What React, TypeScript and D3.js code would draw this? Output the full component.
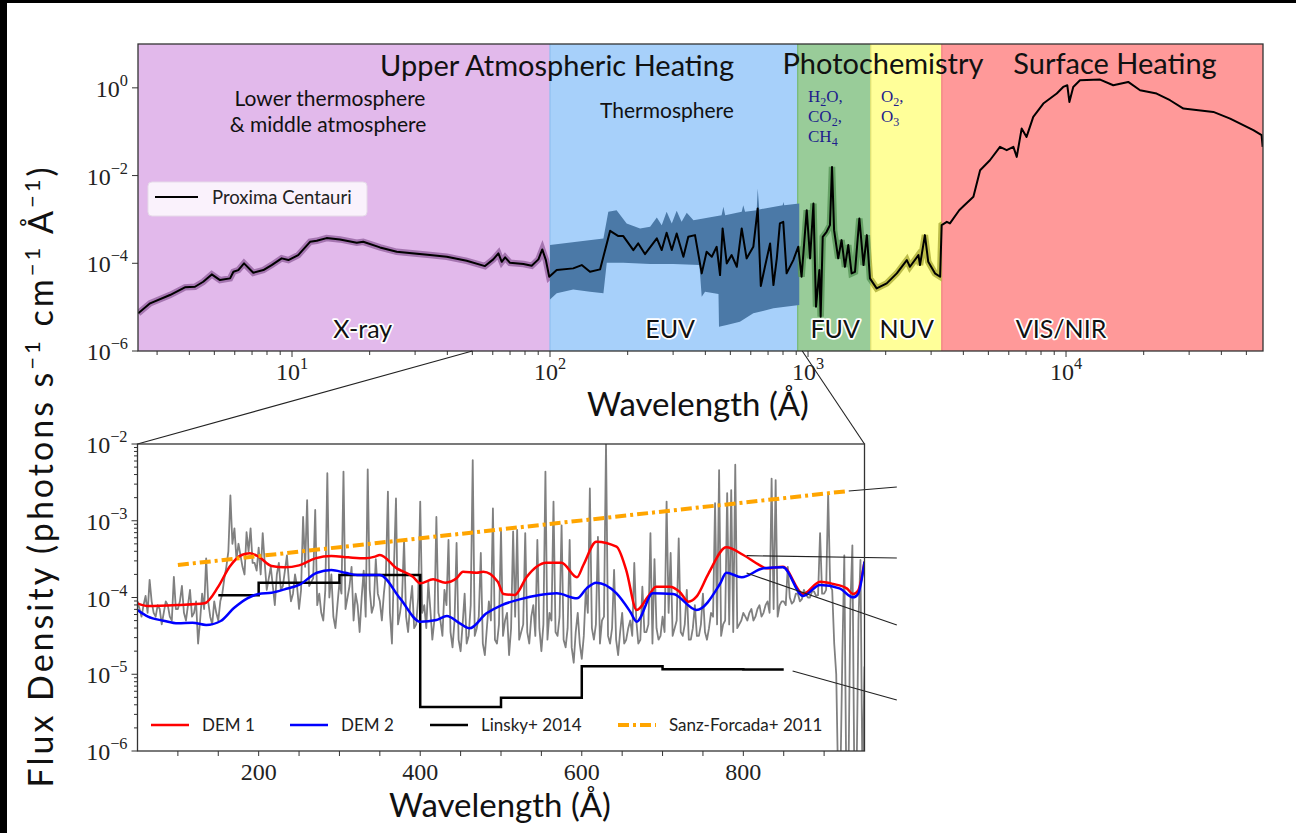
import * as d3 from "d3";

const W = 1296;
const H = 833;

// ---------- top panel: full Proxima Centauri spectrum ----------
const regionEdges = [2.53, 100, 912, 1750, 3300, 58000];
const regionNames = ["X-ray", "EUV", "FUV", "NUV", "VIS/NIR"];
const regionColors = ["#e2b9eb", "#a7d0fa", "#99cc99", "#ffff99", "#ff9999"];
const regionEdgeColors = ["#d2a4dc", "#8fbff0", "#74b874", "#e0e070", "#f08080"];

const proximaLogWave = [
  0.404, 0.45, 0.527, 0.585, 0.624, 0.656, 0.689, 0.721, 0.76, 0.773, 0.792, 0.814, 0.85, 0.889, 0.921, 0.96,
  0.986, 1.024, 1.07, 1.096, 1.134, 1.186, 1.251, 1.276, 1.341, 1.406, 1.535, 1.6, 1.677, 1.748, 1.78, 1.8,
  1.813, 1.826, 1.845, 1.897, 1.929, 1.955, 1.97, 1.984, 1.997,
  2.026, 2.09, 2.123, 2.155, 2.194, 2.233, 2.265, 2.284, 2.323, 2.342, 2.368, 2.414, 2.433, 2.452, 2.472,
  2.491, 2.517, 2.536, 2.562, 2.588, 2.607, 2.627, 2.646, 2.659, 2.669, 2.685, 2.704, 2.724, 2.743, 2.762,
  2.788, 2.805, 2.817, 2.833, 2.853, 2.866, 2.879, 2.891, 2.904, 2.917, 2.943, 2.962,
  2.975, 2.995, 3.008, 3.021, 3.031, 3.044, 3.049, 3.057, 3.072, 3.085, 3.093, 3.101, 3.117, 3.13, 3.143,
  3.156, 3.169, 3.182, 3.199, 3.215, 3.228, 3.24,
  3.266, 3.305, 3.344, 3.383, 3.395, 3.428, 3.434, 3.453, 3.466, 3.492, 3.512,
  3.518, 3.538, 3.55, 3.586, 3.602, 3.641, 3.667, 3.705, 3.744, 3.77, 3.796, 3.809, 3.828, 3.847, 3.873,
  3.912, 3.964, 3.989, 4.005, 4.013, 4.028, 4.054, 4.132, 4.183, 4.241, 4.287, 4.351, 4.403, 4.455, 4.571,
  4.636, 4.726, 4.758, 4.762,
];
const proximaLogFlux = [
  -5.141, -4.913, -4.724, -4.549, -4.535, -4.421, -4.253, -4.383, -4.344, -4.194, -4.155, -4.002, -4.216, -4.155, -4.041, -3.888,
  -3.927, -3.813, -3.51, -3.487, -3.426, -3.456, -3.533, -3.51, -3.638, -3.738, -3.813, -3.852, -3.943, -4.064, -3.911, -3.775,
  -3.966, -3.866, -3.989, -4.018, -4.057, -3.911, -3.684, -3.927, -4.307,
  -4.155, -4.116, -4.041, -4.194, -4.139, -3.26, -3.38, -3.38, -3.699, -3.547, -3.79, -3.433, -3.699, -3.305, -3.699,
  -3.32, -3.852, -3.396, -3.358, -4.23, -3.738, -3.852, -3.624, -4.269, -3.205, -4.002, -3.813, -4.079, -3.205, -3.888,
  -3.624, -2.75, -4.519, -4.079, -3.547, -4.497, -3.888, -3.09, -3.055, -4.23, -3.927, -3.624,
  -4.307, -2.788, -3.888, -2.636, -4.99, -4.155, -5.219, -3.396, -3.282, -3.13, -1.802, -3.244, -3.888, -3.472, -4.079,
  -3.585, -4.23, -4.194, -2.978, -4.041, -3.358, -4.344,
  -4.572, -4.458, -4.23, -3.927, -4.079, -3.813, -4.041, -3.358, -3.966, -4.23, -4.307,
  -3.13, -3.055, -3.09, -2.79, -2.7, -2.485, -1.877, -1.651, -1.346, -1.421, -1.346, -1.574, -0.928, -1.118, -0.662,
  -0.358, -0.13, 0.021, 0.059, -0.321, 0.021, 0.173, 0.189, 0.059, 0.135, -0.055, -0.13, -0.282, -0.472, -0.549,
  -0.7, -0.966, -1.08, -1.346,
];

// EUV uncertainty envelope (dark blue)
const euvUpperLogWave = [2.0, 2.207, 2.226, 2.258, 2.297, 2.349, 2.388, 2.414, 2.433, 2.452, 2.472, 2.491, 2.51, 2.53, 2.556, 2.665, 2.672, 2.679, 2.743, 2.749, 2.756, 2.801, 2.805, 2.811, 2.902, 2.904, 2.908, 2.966];
const euvUpperLogFlux = [-3.585, -3.433, -2.827, -2.788, -3.09, -3.205, -3.168, -2.955, -3.13, -2.827, -3.09, -2.804, -3.055, -2.849, -3.016, -2.902, -2.712, -2.902, -2.827, -2.674, -2.827, -2.788, -2.294, -2.773, -2.674, -2.6, -2.674, -2.636];
const euvLowerLogWave = [2.966, 2.866, 2.788, 2.736, 2.685, 2.655, 2.653, 2.601, 2.588, 2.579, 2.478, 2.388, 2.284, 2.22, 2.207, 2.155, 2.09, 2.026, 2.0];
const euvLowerLogFlux = [-4.952, -5.027, -5.141, -5.333, -5.408, -5.447, -4.702, -4.651, -4.763, -4.041, -4.018, -4.018, -3.989, -3.989, -4.686, -4.651, -4.595, -4.686, -4.823];

const topYTicks = [1e-6, 1e-4, 1e-2, 1];
const topYExp = ["−6", "−4", "−2", "0"];
const topXTicks = [10, 100, 1000, 10000];
const topXExp = ["1", "2", "3", "4"];

// ---------- bottom panel: EUV zoom ----------
// gray spectrum sampled at 50, 55, ... 950 Å (log10 flux)
const grayLogFlux = [
  -4.05, -4.25, -3.98, -3.77, -4.2, -4.1, -4.35, -4.05, -4.25, -3.73,
  -4.15, -3.85, -4.3, -3.9, -4.2, -4.6, -3.95, -3.49, -4.25, -4.05,
  -4.3, -3.95, -3.6, -2.67, -3.1, -3.3, -3.6, -3.15, -3.1, -3.55,
  -3.35, -3.16, -3.9, -3.6, -4.1, -3.55, -3.85, -3.45, -4.05, -3.7,
  -4.15, -2.95, -2.73, -3.8, -2.86, -3.95, -4.3, -2.38, -3.7, -4.4,
  -3.8, -2.36, -4.0, -3.6, -3.95, -4.45, -3.65, -2.33, -4.2, -3.5,
  -4.05, -3.95, -2.62, -4.6, -2.71, -4.2, -3.25, -4.45, -3.85, -4.35,
  -2.75, -4.1, -3.8, -4.55, -2.95, -4.3, -3.9, -3.25, -4.65, -3.29,
  -4.7, -3.95, -4.5, -2.21, -4.4, -3.42, -4.75, -4.05, -2.84, -4.6,
  -3.12, -4.3, -4.75, -3.14, -3.12, -4.45, -3.16, -4.6, -4.1, -3.25,
  -4.7, -2.36, -4.2, -2.75, -4.5, -3.06, -4.65, -3.25, -4.85, -4.2,
  -4.8, -3.9, -2.58, -4.55, -3.21, -4.3, -1.98, -4.6, -3.64, -4.75,
  -4.2, -4.55, -4.3, -3.55, -4.6, -3.86, -4.45, -3.16, -3.5, -4.55,
  -4.25, -2.75, -3.42, -4.4, -3.23, -4.5, -3.9, -4.55, -4.1, -4.5,
  -3.95, -4.55, -4.2, -2.77, -2.34, -4.35, -2.64, -2.6, -2.27, -4.35,
  -4.2, -4.3, -4.15, -4.25, -4.1, -4.2, -4.05, -2.45, -2.47, -4.1,
  -4.05, -3.6, -4.08, -3.95, -4.05, -3.9, -4.0, -3.92, -3.98, -3.16,
  -3.95, -2.64, -3.9, -5.0, -6.5, -3.45, -6.5, -3.32, -6.5, -3.51,
  -4.9,
];
// gray spectrum in-between samples at 52.5, 57.5, ... 947.5 Å (log10 flux)
const grayMidLogFlux = [
  -4.15, -4.1, -4.2, -4.05, -4.25, -4.15, -4.2, -4.1, -4.3, -4.15,
  -4.05, -4.2, -4.1, -4.25, -4.05, -4.3, -4.15, -4.05, -4.35, -4.2,
  -4.05, -3.75, -3.4, -3.3, -3.5, -3.45, -3.7, -3.4, -3.55, -3.65,
  -3.7, -3.55, -3.75, -3.85, -3.7, -3.9, -3.65, -3.8, -3.95, -3.85,
  -3.9, -3.6, -3.85, -3.75, -4.1, -4.2, -3.9, -4.0, -4.25, -4.1,
  -3.95, -4.15, -3.85, -4.3, -4.1, -4.0, -4.25, -3.9, -4.1, -3.95,
  -4.3, -3.7, -4.2, -3.6, -4.35, -4.0, -4.25, -4.1, -4.4, -4.0,
  -4.2, -4.4, -4.15, -4.3, -4.2, -4.5, -4.1, -4.45, -4.3, -4.55,
  -4.35, -4.6, -4.1, -4.5, -4.25, -4.6, -4.4, -4.3, -4.55, -4.35,
  -4.5, -4.2, -4.4, -4.25, -4.55, -4.35, -4.45, -4.25, -4.5, -4.4,
  -4.35, -4.55, -4.3, -4.45, -4.25, -4.55, -4.4, -4.65, -4.45, -4.6,
  -4.5, -4.2, -4.4, -4.35, -4.6, -4.25, -4.5, -4.4, -4.55, -4.45,
  -4.6, -4.4, -4.5, -4.3, -4.55, -4.45, -4.35, -4.6, -4.4, -4.5,
  -4.45, -4.2, -4.5, -4.3, -4.45, -4.35, -4.55, -4.4, -4.5, -4.35,
  -4.45, -4.4, -4.25, -4.35, -4.5, -4.3, -4.35, -4.45, -4.4, -4.3,
  -4.25, -4.2, -4.3, -4.15, -4.25, -4.1, -4.2, -4.15, -4.25, -4.05,
  -4.1, -4.0, -4.05, -3.95, -4.02, -3.96, -4.0, -3.92, -3.97, -3.95,
  -3.9, -3.85, -4.6, -6.5, -4.8, -6.5, -4.1, -6.5, -4.3, -6.5,
];
const grayWave = d3.range(50, 951, 5);
const grayMidWave = d3.range(52.5, 950, 5);

const dem1Wave = [50, 63, 100, 133, 150, 164, 179, 189, 200, 216, 232, 250, 270, 290, 311, 332, 344, 350, 371, 391, 400, 416, 431, 445, 453, 470, 478, 496, 503, 517, 532, 544, 556, 575, 594, 602, 618, 643, 655, 668, 682, 692, 709, 721, 732, 742, 757, 779, 800, 820, 829, 849, 874, 895, 911, 928, 936, 942, 950];
const dem1LogFlux = [-4.076, -4.111, -4.098, -4.076, -3.859, -3.599, -3.446, -3.424, -3.468, -3.59, -3.607, -3.581, -3.49, -3.459, -3.477, -3.49, -3.468, -3.446, -3.62, -3.729, -3.815, -3.763, -3.807, -3.75, -3.664, -3.677, -3.664, -3.794, -3.954, -3.967, -3.729, -3.599, -3.547, -3.547, -3.737, -3.577, -3.273, -3.338, -3.642, -4.163, -3.989, -3.859, -3.859, -3.924, -4.054, -3.989, -3.685, -3.346, -3.446, -3.577, -3.62, -3.598, -3.954, -3.794, -3.823, -3.881, -3.954, -3.911, -3.533];

const dem2Wave = [50, 63, 82, 100, 118, 135, 153, 169, 186, 200, 216, 232, 250, 272, 290, 307, 322, 344, 350, 375, 400, 420, 433, 449, 461, 482, 501, 523, 548, 569, 594, 606, 618, 643, 660, 668, 688, 713, 742, 771, 779, 798, 825, 849, 874, 895, 919, 936, 942, 950];
const dem2LogFlux = [-4.163, -4.25, -4.302, -4.337, -4.328, -4.358, -4.306, -4.141, -4.011, -3.954, -3.937, -3.894, -3.837, -3.677, -3.642, -3.677, -3.707, -3.707, -3.707, -4.011, -4.315, -4.293, -4.241, -4.337, -4.402, -4.206, -4.098, -4.024, -3.967, -3.946, -4.011, -3.881, -3.807, -3.946, -4.185, -4.315, -3.946, -3.954, -4.163, -3.824, -3.677, -3.737, -3.62, -3.607, -3.98, -3.837, -3.881, -3.998, -3.954, -3.533];

const linskyEdges = [150, 200, 300, 400, 500, 600, 700, 800, 850];
const linskyFlux = [1.07e-4, 1.56e-4, 1.96e-4, 3.74e-6, 4.95e-6, 1.27e-5, 1.16e-5, 1.15e-5];

const sanzWave = [100, 930];
const sanzFlux = [2.65e-4, 2.44e-3];

const botXTicks = d3.range(100, 901, 50);
const botXLabels = [200, 400, 600, 800];
const botYTicks = [1e-6, 1e-5, 1e-4, 1e-3, 1e-2];
const botYExp = ["−6", "−5", "−4", "−3", "−2"];

const SANS = "Lato, 'DejaVu Sans', sans-serif";
const SERIF = "'Liberation Serif', 'DejaVu Serif', serif";

function Pow10({ x, y, exp, anchor, size = 24 }: { x: number; y: number; exp: string; anchor: "start" | "middle" | "end"; size?: number }) {
  return (
    <text x={x} y={y} textAnchor={anchor} fontFamily={SERIF} fontSize={size} fill="#222">
      10
      <tspan dy={-11} fontSize={size * 0.68}>
        {exp}
      </tspan>
    </text>
  );
}

export default function App() {
  const T = { left: 138, right: 1263, top: 44, bottom: 351 };
  const B = { left: 137.5, right: 864.5, top: 444, bottom: 751 };

  const xT = d3.scaleLog().domain([2.53, 58000]).range([T.left, T.right]);
  const yT = d3.scaleLog().domain([1e-6, 10]).range([T.bottom, T.top]);
  const xB = d3.scaleLinear().domain([50, 950]).range([B.left, B.right]);
  const yB = d3.scaleLog().domain([1e-6, 1e-2]).range([B.bottom, B.top]);

  const lineT = d3
    .line<[number, number]>()
    .x((d) => xT(10 ** d[0]))
    .y((d) => yT(10 ** d[1]));
  const proxima: [number, number][] = proximaLogWave.map((w, i) => [w, proximaLogFlux[i]]);
  const proximaPath = lineT(proxima) || "";

  const euvPoly: [number, number][] = [
    ...euvUpperLogWave.map((w, i) => [w, euvUpperLogFlux[i]] as [number, number]),
    ...euvLowerLogWave.map((w, i) => [w, euvLowerLogFlux[i]] as [number, number]),
  ];
  const euvPath = (lineT(euvPoly) || "") + "Z";

  const topMinor: number[] = [];
  [1, 10, 100, 1000, 10000].forEach((dec) => {
    for (let m = 2; m <= 9; m++) {
      const v = dec * m;
      if (v > 2.53 && v < 58000) topMinor.push(v);
    }
  });
  const botYMinor: number[] = [];
  [1e-6, 1e-5, 1e-4, 1e-3].forEach((dec) => {
    for (let m = 2; m <= 9; m++) botYMinor.push(dec * m);
  });

  const lineB = d3
    .line<[number, number]>()
    .x((d) => xB(d[0]))
    .y((d) => yB(d[1]));
  const smoothB = d3
    .line<[number, number]>()
    .x((d) => xB(d[0]))
    .y((d) => yB(d[1]))
    .curve(d3.curveMonotoneX);

  const grayPts: [number, number][] = [
    ...grayWave.map((w, i) => [w, 10 ** grayLogFlux[i]] as [number, number]),
    ...grayMidWave.map((w, i) => [w, 10 ** grayMidLogFlux[i]] as [number, number]),
  ].sort((a, b) => a[0] - b[0]);
  const grayPath = lineB(grayPts) || "";
  const dem1Path = smoothB(dem1Wave.map((w, i) => [w, 10 ** dem1LogFlux[i]])) || "";
  const dem2Path = smoothB(dem2Wave.map((w, i) => [w, 10 ** dem2LogFlux[i]])) || "";
  const linskyPts: [number, number][] = linskyEdges.map((e, i) => [e, linskyFlux[Math.min(i, linskyFlux.length - 1)]]);
  const linskyPath =
    d3
      .line<[number, number]>()
      .x((d) => xB(d[0]))
      .y((d) => yB(d[1]))
      .curve(d3.curveStepAfter)(linskyPts) || "";
  const sanzPath = lineB(sanzWave.map((w, i) => [w, sanzFlux[i]])) || "";

  const bandLabel = (txt: string, x: number, size = 25) => (
    <text
      key={txt}
      x={x}
      y={338}
      textAnchor="middle"
      fontFamily={SANS}
      fontSize={size}
      fill="#111"
      stroke="#fff"
      strokeWidth={3.5}
      strokeLinejoin="round"
      style={{ paintOrder: "stroke" }}
    >
      {txt}
    </text>
  );
  const labelWave = [18.8, 292, 1274, 2415, 9570];

  const underlays = [
    { id: "cx", lo: 2.53, hi: 100, color: "#9a68a6" },
    { id: "cf", lo: 912, hi: 1750, color: "#5a985a" },
    { id: "cn", lo: 1750, hi: 3300, color: "#b2b23c" },
  ];

  const legendItems = [
    { label: "DEM 1", color: "#ff0000", x: 151, dash: "" },
    { label: "DEM 2", color: "#0000ff", x: 290, dash: "" },
    { label: "Linsky+ 2014", color: "#000000", x: 430, dash: "" },
    { label: "Sanz-Forcada+ 2011", color: "#ffa500", x: 618, dash: "11 4 3 4" },
  ];

  return (
    <div style={{ position: "absolute", left: 0, top: 0, width: W, height: H, overflow: "hidden" }}>
      <svg width={W} height={H} style={{ display: "block", background: "#fff" }}>
        <defs>
          <clipPath id="clipTop">
            <rect x={T.left} y={T.top} width={T.right - T.left} height={T.bottom - T.top} />
          </clipPath>
          <clipPath id="clipBot">
            <rect x={B.left} y={B.top} width={B.right - B.left} height={B.bottom - B.top} />
          </clipPath>
          {underlays.map((u) => (
            <clipPath id={u.id} key={u.id}>
              <rect x={xT(u.lo)} y={T.top} width={xT(u.hi) - xT(u.lo)} height={T.bottom - T.top} />
            </clipPath>
          ))}
        </defs>

        {/* image border strips */}
        <rect x={0} y={0} width={W} height={3} fill="#000" />
        <rect x={0} y={0} width={7} height={H} fill="#000" />

        {/* ---------- TOP PANEL ---------- */}
        {regionNames.map((n, i) => (
          <rect
            key={n}
            x={xT(regionEdges[i])}
            y={T.top}
            width={xT(regionEdges[i + 1]) - xT(regionEdges[i])}
            height={T.bottom - T.top}
            fill={regionColors[i]}
          />
        ))}
        {regionEdges.slice(1, -1).map((e, i) => (
          <line key={e} x1={xT(e)} x2={xT(e)} y1={T.top} y2={T.bottom} stroke={regionEdgeColors[i + 1]} strokeWidth={1.2} />
        ))}

        <g clipPath="url(#clipTop)">
          <path d={euvPath} fill="#4b79a7" />
          {underlays.map((u) => (
            <path key={u.id} d={proximaPath} fill="none" stroke={u.color} strokeWidth={6.5} strokeOpacity={0.85} clipPath={`url(#${u.id})`} />
          ))}
          <path d={proximaPath} fill="none" stroke="#000" strokeWidth={2} strokeLinejoin="round" />
        </g>

        {/* headings */}
        <g fontFamily={SANS} fill="#111">
          <text x={557} y={76} textAnchor="middle" fontSize={29}>Upper Atmospheric Heating</text>
          <text x={883} y={74} textAnchor="middle" fontSize={29}>Photochemistry</text>
          <text x={1115} y={74} textAnchor="middle" fontSize={29}>Surface Heating</text>
          <text x={330} y={106} textAnchor="middle" fontSize={21}>Lower thermosphere</text>
          <text x={328} y={132} textAnchor="middle" fontSize={21}>&amp; middle atmosphere</text>
          <text x={667} y={118} textAnchor="middle" fontSize={21}>Thermosphere</text>
        </g>
        <g fontFamily={SERIF} fontSize={17} fill="#1e1e8c">
          <text x={808} y={102}>
            H<tspan dy={4} fontSize={12}>2</tspan>
            <tspan dy={-4}>O,</tspan>
          </text>
          <text x={808} y={122}>
            CO<tspan dy={4} fontSize={12}>2</tspan>
            <tspan dy={-4}>,</tspan>
          </text>
          <text x={808} y={142}>
            CH<tspan dy={4} fontSize={12}>4</tspan>
          </text>
          <text x={881} y={102}>
            O<tspan dy={4} fontSize={12}>2</tspan>
            <tspan dy={-4}>,</tspan>
          </text>
          <text x={881} y={122}>
            O<tspan dy={4} fontSize={12}>3</tspan>
          </text>
        </g>

        {regionNames.map((n, i) => bandLabel(n, xT(labelWave[i])))}

        {/* legend top */}
        <rect x={148} y={182} width={219} height={34} rx={4} fill="#ffffff" fillOpacity={0.82} stroke="#e6dbe9" />
        <line x1={155} x2={198} y1={197} y2={197} stroke="#000" strokeWidth={2} />
        <text x={212} y={204} fontFamily={SANS} fontSize={18.5} fill="#222">Proxima Centauri</text>

        {/* top frame & ticks */}
        <rect x={T.left} y={T.top} width={T.right - T.left} height={T.bottom - T.top} fill="none" stroke="#333" strokeWidth={1.3} />
        {topYTicks.map((t, i) => (
          <g key={t}>
            <line x1={T.left - 6} x2={T.left} y1={yT(t)} y2={yT(t)} stroke="#333" />
            <Pow10 x={T.left - 10} y={yT(t) + 9} exp={topYExp[i]} anchor="end" />
          </g>
        ))}
        {topXTicks.map((t, i) => (
          <g key={t}>
            <line x1={xT(t)} x2={xT(t)} y1={T.bottom} y2={T.bottom + 6} stroke="#333" />
            <Pow10 x={xT(t)} y={380} exp={topXExp[i]} anchor="middle" />
          </g>
        ))}
        {topMinor.map((t) => (
          <line key={t} x1={xT(t)} x2={xT(t)} y1={T.bottom} y2={T.bottom + 4} stroke="#333" />
        ))}
        <text x={698} y={416} textAnchor="middle" fontFamily={SANS} fontSize={33} fill="#111">Wavelength (Å)</text>

        {/* zoom connectors */}
        <line x1={xT(50)} y1={T.bottom} x2={B.left} y2={B.top} stroke="#222" strokeWidth={1.1} />
        <line x1={xT(950)} y1={T.bottom} x2={B.right} y2={B.top} stroke="#222" strokeWidth={1.1} />

        {/* ---------- BOTTOM PANEL ---------- */}
        <g clipPath="url(#clipBot)">
          <path d={grayPath} fill="none" stroke="#808080" strokeWidth={1.8} strokeLinejoin="round" />
          <path d={linskyPath} fill="none" stroke="#000" strokeWidth={2.5} />
          <path d={dem1Path} fill="none" stroke="#ff0000" strokeWidth={2.5} />
          <path d={dem2Path} fill="none" stroke="#0000ff" strokeWidth={2.5} />
          <path d={sanzPath} fill="none" stroke="#ffa500" strokeWidth={4} strokeDasharray="11 4 3 4" />
        </g>

        {/* annotation leaders to the right */}
        <g stroke="#222" strokeWidth={1.1}>
          <line x1={xB(930.5)} y1={yB(10 ** -2.612)} x2={xB(990)} y2={yB(10 ** -2.56)} />
          <line x1={xB(804)} y1={yB(10 ** -3.455)} x2={xB(990)} y2={yB(10 ** -3.485)} />
          <line x1={xB(804)} y1={yB(10 ** -3.681)} x2={xB(990)} y2={yB(10 ** -4.358)} />
          <line x1={xB(861)} y1={yB(10 ** -4.958)} x2={xB(990)} y2={yB(10 ** -5.336)} />
        </g>

        {/* legend bottom */}
        {legendItems.map((it) => (
          <g key={it.label}>
            <line x1={it.x} x2={it.x + 38} y1={725} y2={725} stroke={it.color} strokeWidth={it.dash ? 4 : 2.5} strokeDasharray={it.dash || undefined} />
            <text x={it.x + 51} y={731} fontFamily={SANS} fontSize={17} fill="#222">{it.label}</text>
          </g>
        ))}

        <rect x={B.left} y={B.top} width={B.right - B.left} height={B.bottom - B.top} fill="none" stroke="#333" strokeWidth={1.3} />
        {botYTicks.map((t, i) => (
          <g key={t}>
            <line x1={B.left - 6} x2={B.left} y1={yB(t)} y2={yB(t)} stroke="#333" />
            <Pow10 x={B.left - 10} y={yB(t) + 9} exp={botYExp[i]} anchor="end" />
          </g>
        ))}
        {botYMinor.map((t) => (
          <line key={t} x1={B.left - 3.5} x2={B.left} y1={yB(t)} y2={yB(t)} stroke="#333" />
        ))}
        {botXTicks.map((t) => (
          <line key={t} x1={xB(t)} x2={xB(t)} y1={B.bottom} y2={B.bottom + 5} stroke="#333" />
        ))}
        {botXLabels.map((t) => (
          <text key={t} x={xB(t)} y={780} textAnchor="middle" fontFamily={SERIF} fontSize={24} fill="#222">{t}</text>
        ))}
        <text x={500} y={817} textAnchor="middle" fontFamily={SANS} fontSize={33} fill="#111">Wavelength (Å)</text>

        {/* shared y label */}
        <text
          transform="translate(53, 476) rotate(-90)"
          textAnchor="middle"
          fontFamily={SANS}
          fontSize={34}
          letterSpacing={3}
          fill="#111"
        >
          Flux Density (photons s<tspan dy={-13} fontSize={22}>−1</tspan>
          <tspan dy={13}> cm</tspan>
          <tspan dy={-13} fontSize={22}>−1</tspan>
          <tspan dy={13}> Å</tspan>
          <tspan dy={-13} fontSize={22}>−1</tspan>
          <tspan dy={13}>)</tspan>
        </text>
      </svg>
    </div>
  );
}
